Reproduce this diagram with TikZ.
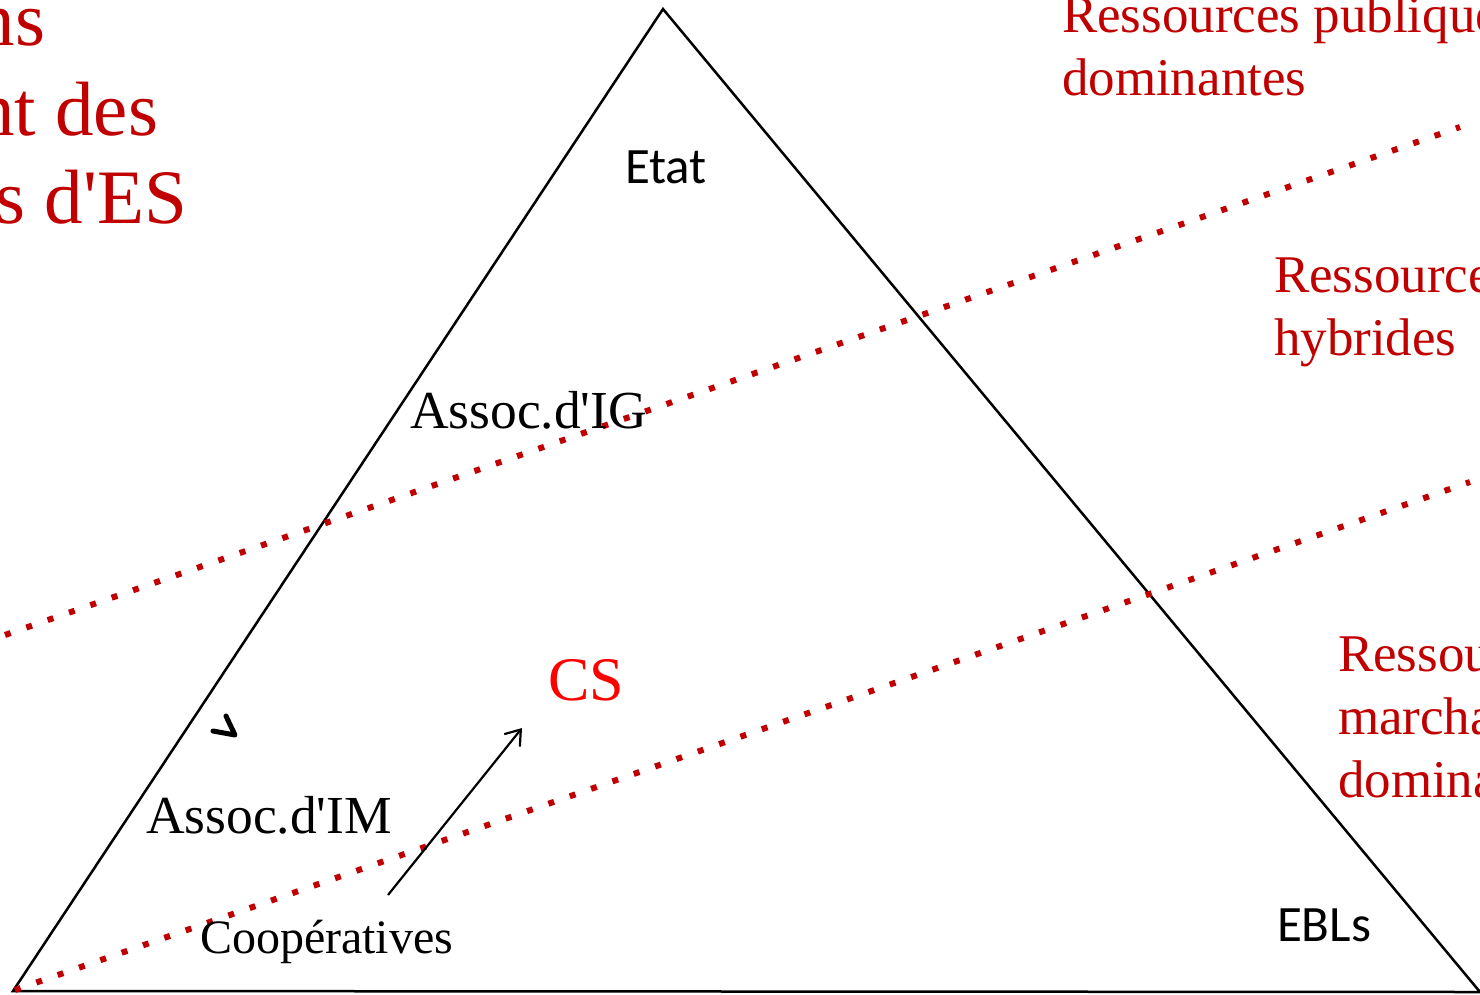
\documentclass[tikz,border=0pt]{standalone}
\usepackage{fontspec}
\setmainfont{Liberation Serif}
\newfontfamily\calib{Carlito}
\usetikzlibrary{arrows.meta}
\definecolor{darkred}{HTML}{C00000}
\definecolor{brightred}{HTML}{FF0000}
\newcommand{\apos}{\textquotesingle}
\tikzset{
  lbl/.style={anchor=base west, inner sep=0pt, outer sep=0pt},
  serif/.style={lbl, font=\fontsize{53.5}{62}\selectfont},
  sans/.style={lbl, font=\calib\fontsize{51}{58}\selectfont},
  res/.style={lbl, text=darkred, align=left, font=\fontsize{53}{63}\selectfont},
  ttl/.style={lbl, anchor=base east, text=darkred, font=\fontsize{77}{89}\selectfont},
  sep/.style={draw=darkred, line width=6pt, dash pattern=on 6pt off 16.6pt},
  edge/.style={draw=black, line width=2.5pt},
}
\begin{document}
\begin{tikzpicture}[x=1pt, y=-1pt]
  \useasboundingbox (0,0) rectangle (1480,994);
  \clip (0,0) rectangle (1480,994);

  % triangle
  \coordinate (apex) at (663,9);
  \coordinate (bl) at (13,991);
  \coordinate (br) at (1480,992);
  \draw[edge, line join=miter] (bl) -- (apex) -- (br) -- cycle;

  % separating dotted lines between resource bands
  \coordinate (s1a) at (5,635);
  \coordinate (s1b) at (1460,127);
  \coordinate (s2a) at (15,990);
  \coordinate (s2b) at (1470,482);
  \draw[sep] (s1a) -- (s1b);
  \draw[sep] (s2a) -- (s2b);

  % title fragments on the left
  \node[ttl] (t1) at (45,45) {ns};
  \node[ttl] (t2) at (158,135) {nt des};
  \node[ttl] (t3) at (187,223) {es d\apos ES};

  % resource bands on the right (anchored at the last line's baseline)
  \node[res] (r1) at (1062,95) {Ressources publiques\\dominantes};
  \node[res] (r2) at (1274,355) {Ressources\\hybrides};
  \node[res] (r3) at (1338,797) {Ressources\\marchandes\\dominantes};

  % actors
  \node[sans] (etat) at (625,183) {Etat};
  \node[sans] (ebl) at (1277,941) {EBLs};
  \node[serif] (aig) at (410,428) {Assoc.d\apos IG};
  \node[serif] (aim) at (146,833) {Assoc.d\apos IM};
  \node[lbl, font=\fontsize{48}{56}\selectfont] (coop) at (200,953) {Coopératives};
  \node[lbl, text=brightred, font=\fontsize{62}{70}\selectfont] (cs) at (548,700) {CS};

  % arrow from cooperatives towards CS
  \coordinate (a0) at (388,895);
  \coordinate (a1) at (522,728);
  \draw[line width=2.2pt, -{Straight Barb[length=14pt, width=20pt, line width=2.2pt]}] (a0) -- (a1);

  % small stroke mark
  \coordinate (m1) at (226,716);
  \coordinate (m2) at (235,735);
  \coordinate (m3) at (213,731);
  \draw[line width=5pt, line cap=round, line join=round] (m1) -- (m2) -- (m3);
\end{tikzpicture}
\end{document}
